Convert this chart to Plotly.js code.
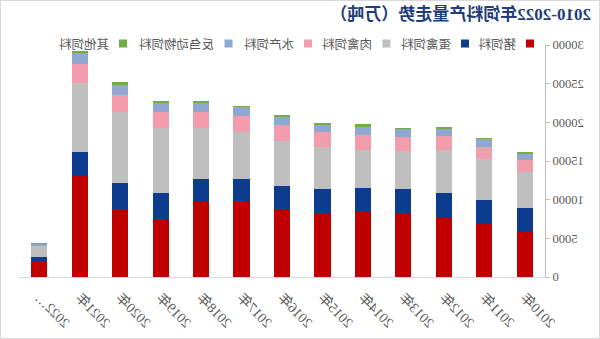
<!DOCTYPE html>
<html><head><meta charset="utf-8">
<script src="https://cdn.plot.ly/plotly-3.0.1.min.js"></script>
<style>
html,body{margin:0;padding:0;background:#fff;}
#wrap{position:relative;width:600px;height:339px;overflow:hidden;}
#chart{width:600px;height:339px;transform:scaleX(-1);transform-origin:center;}
#frame{position:absolute;left:0;top:0;width:600px;height:339px;box-sizing:border-box;border:1px solid #D9D9D9;pointer-events:none;}
</style></head><body>
<div id="wrap"><div id="chart"></div><div id="frame"></div></div>
<script>
// 2010-2022年饲料产量（万吨）
const categories = ['2010年','2011年','2012年','2013年','2014年','2015年','2016年','2017年','2018年','2019年','2020年','2021年','2022…'];
const pigFeed      = [5860, 6810, 7670, 8320, 8450, 8230, 8660, 9830, 9660, 7500, 8790, 13060, 2070];
const layerFeed    = [3020, 3150, 3230, 3060, 3020, 3110, 3070, 2800, 3010, 3320, 3410, 3140, 560];
const broilerFeed  = [4740, 5260, 5520, 4910, 4950, 5430, 5900, 6080, 6560, 8410, 9180, 8930, 1380];
const aquaFeed     = [1510, 1630, 1810, 1870, 1940, 1940, 2030, 2110, 2150, 2150, 2160, 2410, 40];
const ruminantFeed = [740, 960, 870, 940, 1000, 950, 990, 1120, 1160, 1160, 1290, 1460, 160];
const otherFeed    = [250, 130, 260, 130, 390, 290, 260, 210, 180, 220, 390, 270, 150];
const seriesNames  = ['猪饲料','蛋禽饲料','肉禽饲料','水产饲料','反刍动物饲料','其他饲料'];
const yTicks       = [0, 5000, 10000, 15000, 20000, 25000, 30000];

const seriesValues = [pigFeed, layerFeed, broilerFeed, aquaFeed, ruminantFeed, otherFeed];
const colors = ['#C00000','#0D3B8E','#BFBFBF','#F39CAD','#8FA7D1','#70AD47'];

const traces = seriesValues.map((v, i) => ({
  type: 'bar', x: categories, y: v, name: seriesNames[i],
  marker: {color: colors[i], line: {width: 0}}, showlegend: false,
  hoverinfo: 'x+y+name'
}));

// custom legend (pixel layout converted to paper coords)
const L = 55, W = 526, T = 45, H = 232;
const legendCenters = [70, 135, 213.5, 292, 371.5, 477];
const legY = 43.5;
const shapes = [], annotations = [];
legendCenters.forEach((cx, i) => {
  shapes.push({type: 'rect', xref: 'paper', yref: 'paper',
    x0: (cx - 4 - L) / W, x1: (cx + 4 - L) / W,
    y0: (T + H - legY - 4) / H, y1: (T + H - legY + 4) / H,
    fillcolor: colors[i], line: {width: 0}});
  annotations.push({xref: 'paper', yref: 'paper', x: (cx + 12 - L) / W, y: (T + H - legY) / H,
    xanchor: 'left', yanchor: 'middle', text: seriesNames[i], showarrow: false,
    font: {family: 'Noto Sans CJK SC, sans-serif', size: 12.5, color: '#595959'}});
});

const layout = {
  width: 600, height: 339,
  margin: {l: L, r: 600 - L - W, t: T, b: 339 - T - H},
  paper_bgcolor: '#fff', plot_bgcolor: '#fff',
  barmode: 'stack', bargap: 0.6,
  title: {text: '2010-2022年饲料产量走势（万吨）', xref: 'container', yref: 'container',
    x: 0.015, xanchor: 'left', y: 1 - 14 / 339, yanchor: 'middle',
    font: {family: 'Liberation Serif, Noto Sans CJK SC, serif', size: 17, color: '#1F3D7A', weight: 'bold'}},
  xaxis: {type: 'category', showline: true, linecolor: '#D9D9D9', linewidth: 1,
    ticks: 'outside', ticklen: 6, tickcolor: 'rgba(0,0,0,0)',
    tickangle: -45, showgrid: false, zeroline: false, automargin: false,
    tickfont: {family: 'Liberation Serif, Noto Sans CJK SC, serif', size: 14, color: '#595959'},
    range: [-0.5, categories.length - 0.5]},
  yaxis: {range: [0, 30000], tickvals: yTicks, tickformat: 'd', showline: true, linecolor: '#BFBFBF',
    linewidth: 1, ticks: 'outside', ticklen: 4, tickcolor: '#BFBFBF', showgrid: false, zeroline: false,
    automargin: false,
    tickfont: {family: 'Liberation Serif, serif', size: 12.5, color: '#595959'}},
  shapes: shapes, annotations: annotations
};

Plotly.newPlot('chart', traces, layout, {displayModeBar: false, staticPlot: true});
</script>
</body></html>
